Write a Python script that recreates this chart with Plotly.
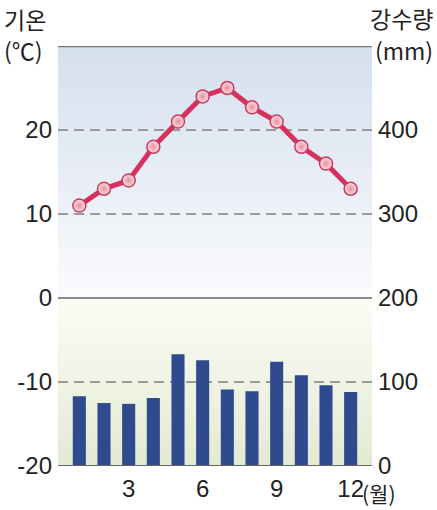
import base64
import plotly.graph_objects as go

months = list(range(1, 13))
temperature = [11, 13, 14, 18, 21, 24, 25, 22.7, 21, 18, 16, 13]
precipitation = [83, 75, 74, 81, 133, 126, 91, 89, 124, 108, 96, 88]

temp_ticks = [-20, -10, 0, 10, 20]
temp_ticktext = ["-20", "-10", "0", "10", "20"]
prec_ticks = [0, 100, 200, 300, 400]
prec_ticktext = ["0", "100", "200", "300", "400"]
month_ticks = [3, 6, 9, 12]
month_ticktext = ["3", "6", "9", "12"]

FONT = "Liberation Sans, Noto Sans CJK KR, sans-serif"
KFONT = "Noto Sans CJK KR, sans-serif"

# background gradient as an SVG image
svg = (
    '<svg xmlns="http://www.w3.org/2000/svg" width="100" height="500" viewBox="0 0 100 500" preserveAspectRatio="none">'
    '<defs>'
    '<linearGradient id="a" x1="0" y1="0" x2="0" y2="1">'
    '<stop offset="0" stop-color="#d4dfee"/><stop offset="1" stop-color="#fbfbfd"/></linearGradient>'
    '<linearGradient id="b" x1="0" y1="0" x2="0" y2="1">'
    '<stop offset="0" stop-color="#fcfcf5"/><stop offset="1" stop-color="#e3ead3"/></linearGradient>'
    '</defs>'
    '<rect x="0" y="0" width="100" height="300" fill="url(#a)"/>'
    '<rect x="0" y="300" width="100" height="200" fill="url(#b)"/>'
    '</svg>'
)
src = "data:image/svg+xml;base64," + base64.b64encode(svg.encode()).decode()

fig = go.Figure()

fig.add_trace(go.Bar(
    x=months, y=precipitation, yaxis="y2", width=0.53,
    marker=dict(color="#2f4b8e", line=dict(width=0)),
    showlegend=False, hoverinfo="skip",
))

fig.add_trace(go.Scatter(
    x=months, y=temperature, mode="lines+markers",
    line=dict(color="#d6305f", width=5),
    marker=dict(size=13, color="#fbe3e6",
                gradient=dict(type="radial", color="#ec8c9a"),
                line=dict(color="#c93a60", width=1.5)),
    showlegend=False, hoverinfo="skip",
))

shapes = []
for v in [20, 10, -10]:
    shapes.append(dict(type="line", xref="paper", yref="y", x0=0, x1=1, y0=v, y1=v,
                       line=dict(color="#9a9a9a", width=1.8, dash="10px,6px"), layer="between"))
shapes.append(dict(type="line", xref="paper", yref="y", x0=0, x1=1, y0=0, y1=0,
                   line=dict(color="#666666", width=1.5), layer="between"))
shapes.append(dict(type="line", xref="paper", yref="y", x0=0, x1=1, y0=30, y1=30,
                   line=dict(color="#7a7a7a", width=2.5), layer="between"))
shapes.append(dict(type="line", xref="paper", yref="y", x0=0, x1=1, y0=-20, y1=-20,
                   line=dict(color="#666666", width=2), layer="above"))

tickfont = dict(size=24, family=FONT, color="#222222")
afont = dict(family=KFONT, size=23, color="#222222")

fig.update_layout(
    width=437, height=510,
    margin=dict(l=58, r=65, t=46, b=44, autoexpand=False),
    paper_bgcolor="white", plot_bgcolor="white",
    font=dict(family=FONT, size=24, color="#222222"),
    images=[dict(source=src, xref="paper", yref="paper", x=0, y=1, sizex=1, sizey=1,
                 xanchor="left", yanchor="top", sizing="stretch", layer="below")],
    shapes=shapes,
    xaxis=dict(range=[0.135, 12.865], tickvals=month_ticks, ticktext=month_ticktext,
               showgrid=False, zeroline=False, showline=False, ticks="",
               ticklabelstandoff=6, automargin=False, tickfont=tickfont),
    yaxis=dict(range=[-20, 30], tickvals=temp_ticks, ticktext=temp_ticktext,
               showgrid=False, zeroline=False, showline=False, ticks="",
               ticklabelstandoff=5, automargin=False, tickfont=tickfont),
    yaxis2=dict(range=[0, 500], tickvals=prec_ticks, ticktext=prec_ticktext,
                overlaying="y", side="right", showgrid=False, zeroline=False,
                showline=False, ticks="", ticklabelstandoff=5, automargin=False,
                tickfont=tickfont),
    annotations=[
        dict(text="기온", xref="paper", yref="paper", x=0, y=1,
             xanchor="left", yanchor="top", xshift=-55, yshift=45,
             showarrow=False, font=afont, borderpad=0),
        dict(text="(℃)", xref="paper", yref="paper", x=0, y=1,
             xanchor="left", yanchor="top", xshift=-55, yshift=14,
             showarrow=False, font=afont, borderpad=0),
        dict(text="강수량", xref="paper", yref="paper", x=1, y=1,
             xanchor="right", yanchor="top", xshift=62, yshift=46,
             showarrow=False, font=afont, borderpad=0),
        dict(text="(mm)", xref="paper", yref="paper", x=1, y=1,
             xanchor="right", yanchor="top", xshift=62, yshift=14,
             showarrow=False, font=afont, borderpad=0),
        dict(text="(월)", xref="x", yref="paper", x=12, y=0,
             xanchor="left", yanchor="top", xshift=10, yshift=-11,
             showarrow=False, font=dict(family=KFONT, size=21, color="#222222"),
             borderpad=0),
    ],
)

fig.write_html("out.html", config={"displayModeBar": False},
               post_script="document.body.style.margin='0';")
